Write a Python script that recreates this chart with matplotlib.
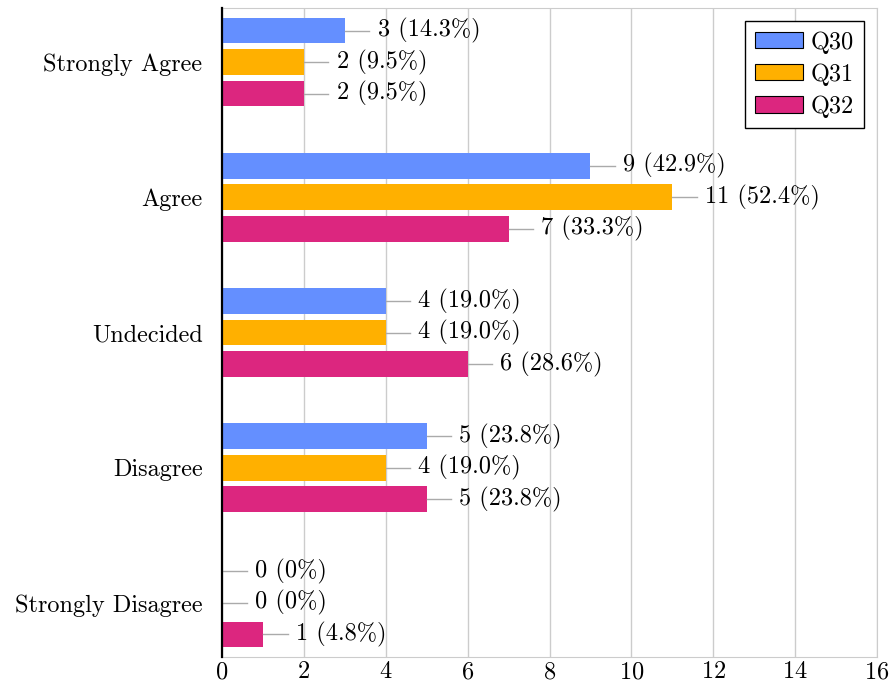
import matplotlib
matplotlib.use('Agg')
import matplotlib.pyplot as plt
import numpy as np

categories = ['Strongly Agree', 'Agree', 'Undecided', 'Disagree', 'Strongly Disagree']
q30 = [3, 9, 4, 5, 0]
q31 = [2, 11, 4, 4, 0]
q32 = [2, 7, 6, 5, 1]
q30_pct = ['14.3', '42.9', '19.0', '23.8', '0']
q31_pct = ['9.5', '52.4', '19.0', '19.0', '0']
q32_pct = ['9.5', '33.3', '28.6', '23.8', '4.8']
series = ['Q30', 'Q31', 'Q32']
colors = ['#648FFF', '#FFB000', '#DC267F']

plt.rcParams['font.family'] = 'cmr10'
plt.rcParams['axes.formatter.use_mathtext'] = True

fig = plt.figure(figsize=(8.93, 6.87), dpi=100)
ax = fig.add_axes([222/893, 1-657/687, (877-222)/893, (657-8)/687])

y = np.arange(len(categories))
step = 0.233
h = 0.19
data = [q30, q31, q32]
pcts = [q30_pct, q31_pct, q32_pct]
for i in range(3):
    pos = y + (i - 1) * step
    ax.barh(pos, data[i], height=h, color=colors[i], label=series[i], zorder=2)
    for p, v, pc in zip(pos, data[i], pcts[i]):
        ax.plot([v, v + 0.6], [p, p], color='#aaaaaa', lw=1, zorder=3, clip_on=False)
        ax.text(v + 0.8, p, '%d (%s%%)' % (v, pc), va='center', ha='left', fontsize=17.5)

ax.set_xlim(0, 16)
ax.set_ylim(4.4, -0.4)
ax.set_xticks(range(0, 17, 2))
ax.set_yticks(y)
ax.set_yticklabels(categories)
ax.tick_params(axis='both', length=0, labelsize=17.5)
ax.tick_params(axis='y', pad=14)
ax.tick_params(axis='x', pad=3)
ax.grid(axis='x', color='#cccccc', lw=1, zorder=0)
for s in ['top', 'right', 'bottom']:
    ax.spines[s].set_color('#cccccc')
ax.spines['left'].set_color('black')
ax.spines['left'].set_linewidth(1.6)
ax.spines['left'].set_zorder(4)

leg = ax.legend(loc='upper right', fontsize=17.5, fancybox=False, framealpha=1,
                edgecolor='black', handlelength=2.0, handleheight=0.65,
                borderaxespad=0.55, handletextpad=0.3, labelspacing=0.4,
                borderpad=0.4)
for hd in leg.legend_handles:
    hd.set_edgecolor('black')
    hd.set_linewidth(0.8)

plt.savefig('out.png', dpi=100)
